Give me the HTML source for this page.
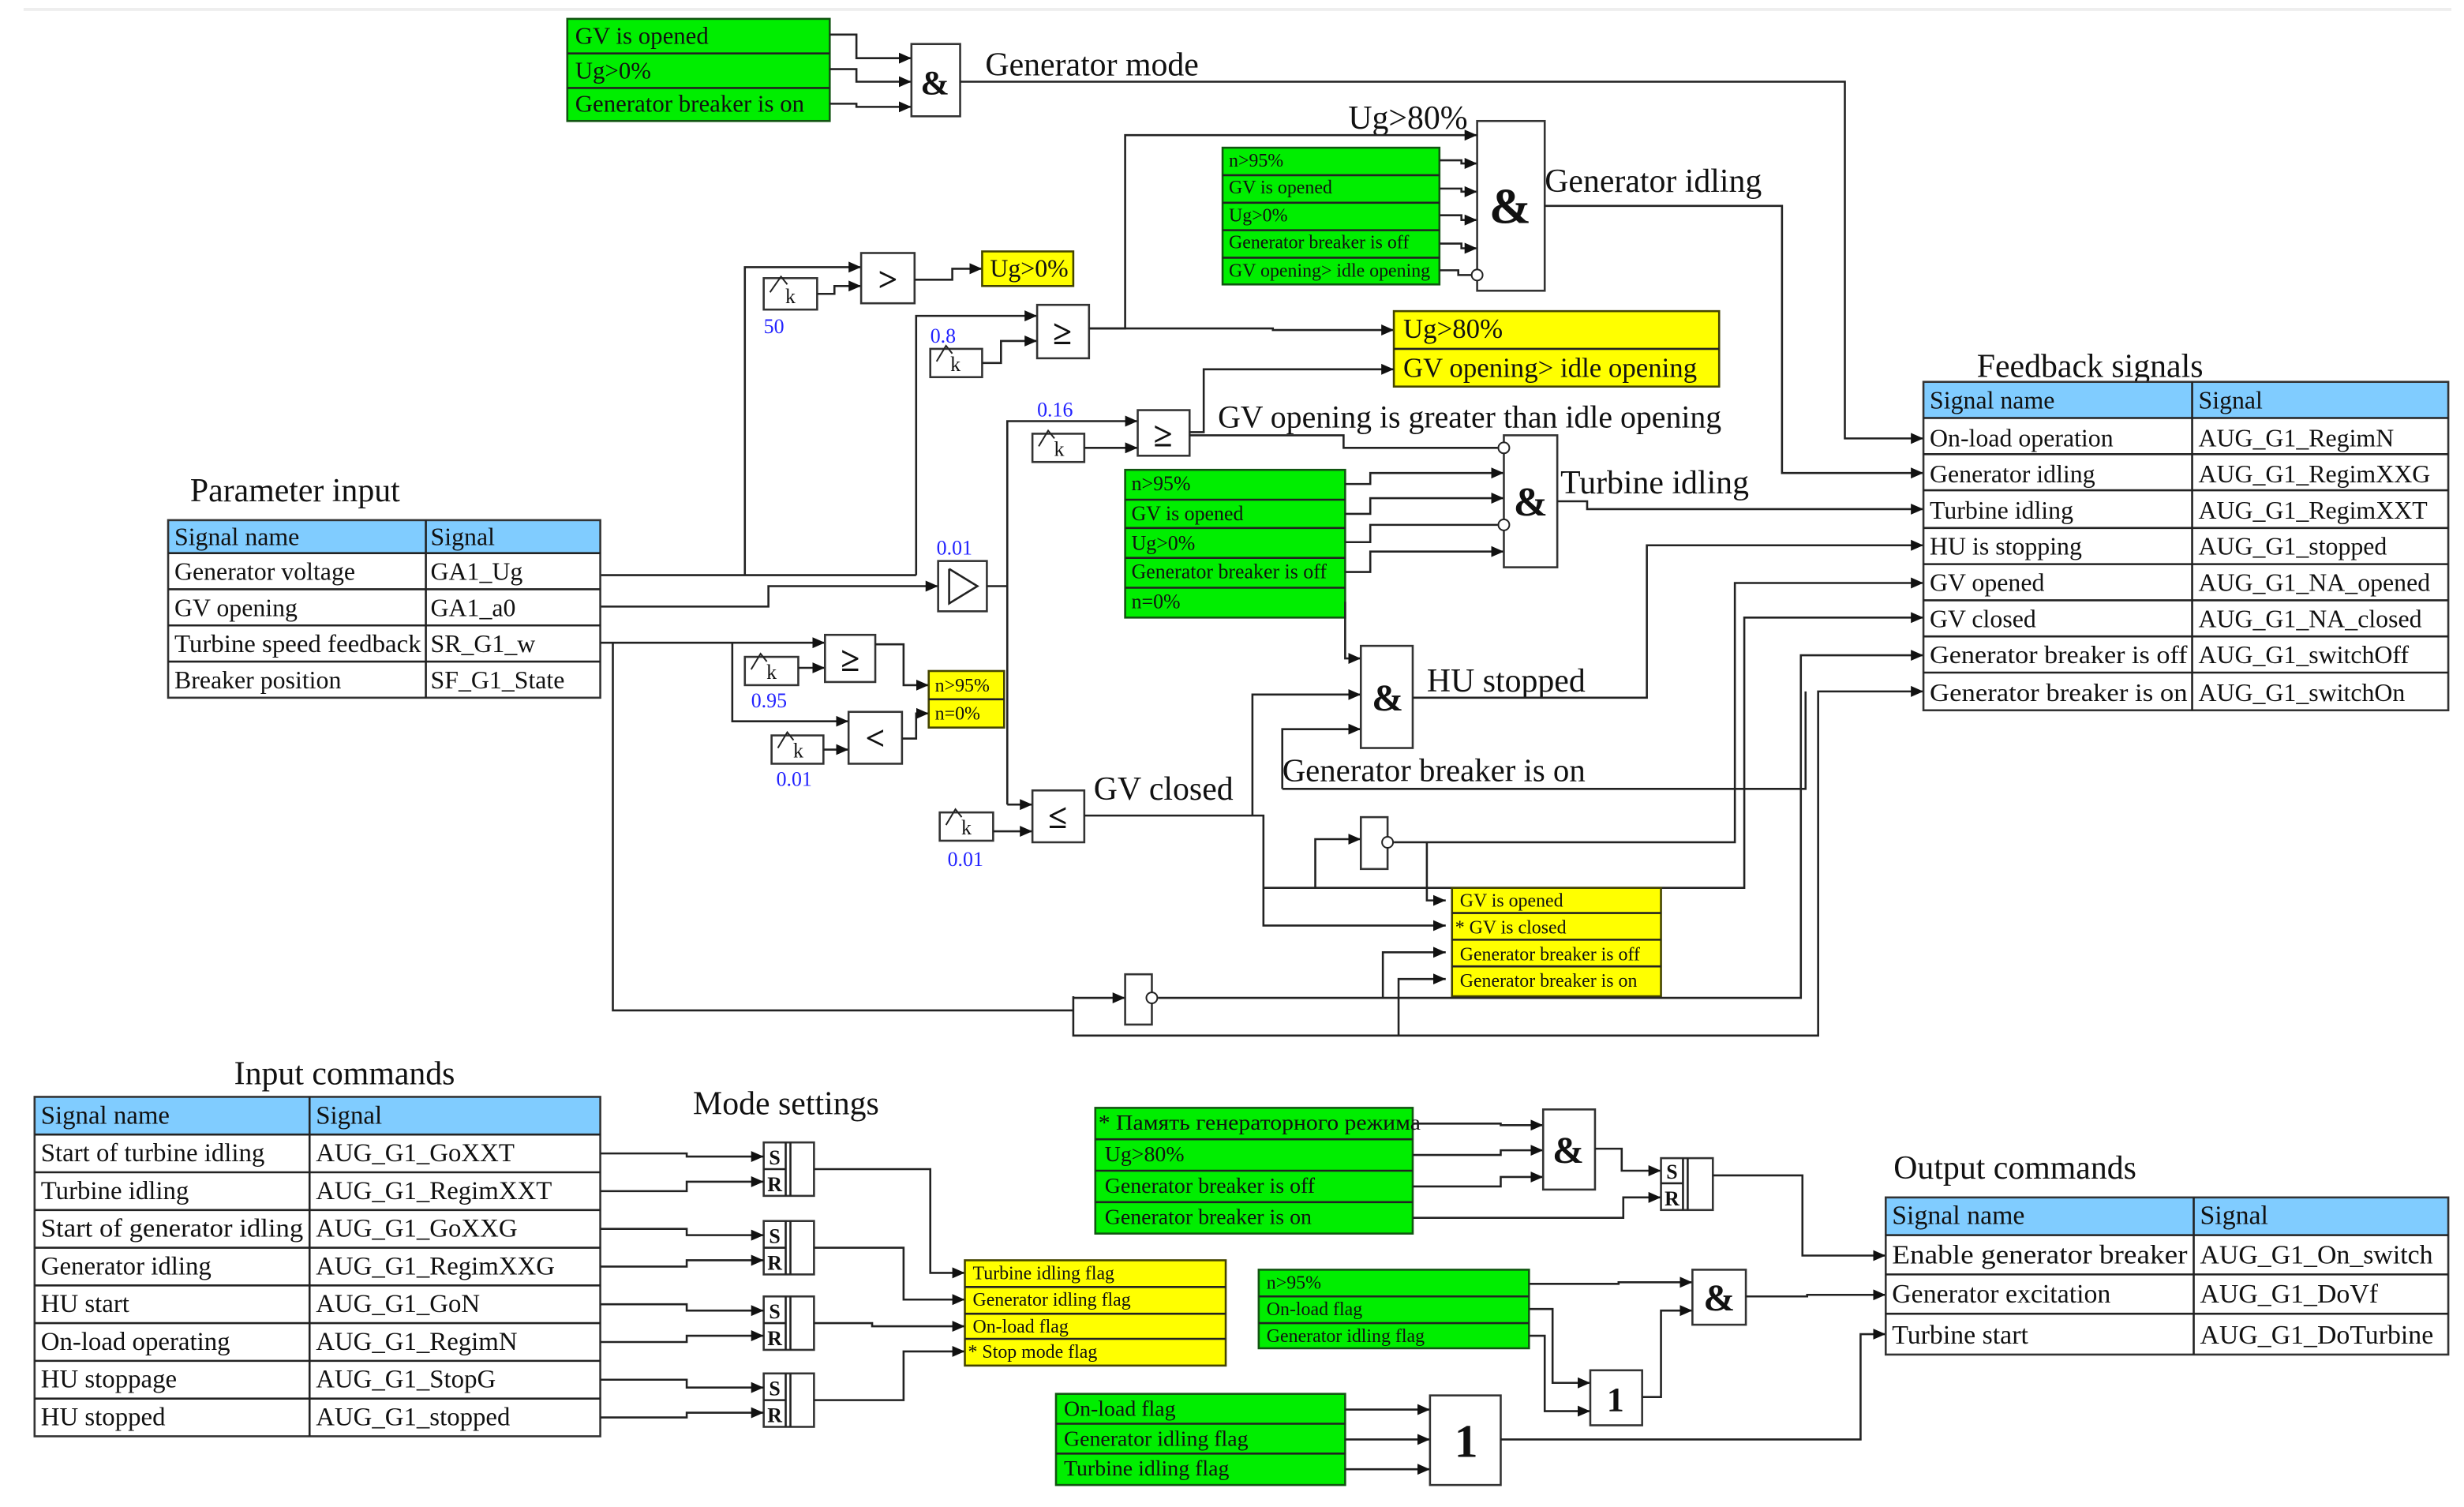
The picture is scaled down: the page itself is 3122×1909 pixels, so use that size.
<!DOCTYPE html>
<html><head><meta charset="utf-8"><style>
html,body{margin:0;padding:0;background:#fff;}
svg{display:block;}
text{font-family:"Liberation Serif","Noto Serif CJK SC",serif;fill:#111;}
.ln{fill:none;stroke:#222;stroke-width:1.3;}
.g{fill:#00ee00;stroke:#115511;stroke-width:1.3;}
.y{fill:#ffff00;stroke:#444400;stroke-width:1.3;}
.gate{fill:#fff;stroke:#333;stroke-width:1.3;}
.hd{fill:#80ccff;}
.b{fill:#2222ff;}
</style></head><body>
<svg width="3122" height="1909" viewBox="0 0 1568 959" preserveAspectRatio="none" xmlns="http://www.w3.org/2000/svg">
<defs><marker id="a" markerWidth="8" markerHeight="8" refX="8" refY="4" orient="auto" markerUnits="userSpaceOnUse"><path d="M0,0.5L8,4L0,7.5z" fill="#111"/></marker></defs>
<line x1="15" y1="6" x2="1560" y2="6" stroke="#eee" stroke-width="2"/>

<!-- Generator mode -->
<rect class="g" x="361" y="12" width="167" height="65"/>
<line class="ln" x1="361" y1="34" x2="528" y2="34"/><line class="ln" x1="361" y1="56" x2="528" y2="56"/>
<text x="366" y="28" font-size="15.5">GV is opened</text>
<text x="366" y="50" font-size="15.5">Ug&gt;0%</text>
<text x="366" y="71" font-size="15.5">Generator breaker is on</text>
<polyline class="ln" points="528,22 545,22 545,37 580,37" marker-end="url(#a)"/>
<polyline class="ln" points="528,44 545,44 545,52 580,52" marker-end="url(#a)"/>
<polyline class="ln" points="528,66 545,66 545,68 580,68" marker-end="url(#a)"/>
<rect class="gate" x="580" y="28" width="31" height="46"/>
<text x="595" y="60" font-size="22" font-weight="bold" text-anchor="middle">&amp;</text>
<text x="627" y="48" font-size="21">Generator mode</text>
<polyline class="ln" points="611,52 1174,52 1174,279 1224,279" marker-end="url(#a)"/>

<!-- Generator idling -->
<rect class="g" x="778" y="94" width="138" height="87"/>
<g class="ln"><line x1="778" y1="111.5" x2="916" y2="111.5"/><line x1="778" y1="129" x2="916" y2="129"/><line x1="778" y1="146.5" x2="916" y2="146.5"/><line x1="778" y1="164" x2="916" y2="164"/></g>
<g font-size="12"><text x="782" y="106">n&gt;95%</text><text x="782" y="123">GV is opened</text><text x="782" y="141">Ug&gt;0%</text><text x="782" y="158">Generator breaker is off</text><text x="782" y="176">GV opening&gt; idle opening</text></g>
<polyline class="ln" points="916,102 930,102 930,104 940,104" marker-end="url(#a)"/>
<polyline class="ln" points="916,120 930,120 930,122 940,122" marker-end="url(#a)"/>
<polyline class="ln" points="916,137 930,137 930,140 940,140" marker-end="url(#a)"/>
<polyline class="ln" points="916,155 930,155 930,158 940,158" marker-end="url(#a)"/>
<polyline class="ln" points="916,172 928,172 928,175 937,175"/>
<rect class="gate" x="940" y="77" width="43" height="108"/>
<circle cx="940" cy="175" r="3.5" fill="#fff" stroke="#222" stroke-width="1"/>
<text x="961" y="142" font-size="32" font-weight="bold" text-anchor="middle">&amp;</text>
<text x="858" y="82" font-size="21">Ug&gt;80%</text>
<text x="983" y="122" font-size="21">Generator idling</text>
<polyline class="ln" points="693,209 716,209 716,86 940,86" marker-end="url(#a)"/>
<polyline class="ln" points="983,131 1134,131 1134,301 1224,301" marker-end="url(#a)"/>

<!-- comparators top -->
<polyline class="ln" points="382,366 583,366"/>
<polyline class="ln" points="474,366 474,170 548,170" marker-end="url(#a)"/>
<rect class="gate" x="486" y="177" width="34" height="20"/><text x="503" y="193" font-size="13" text-anchor="middle">k</text>
<polyline class="ln" points="490,186 497,176 501,181" style="stroke-width:1"/>
<text x="486" y="212" font-size="13" class="b">50</text>
<polyline class="ln" points="520,187 531,187 531,182 548,182" marker-end="url(#a)"/>
<rect class="gate" x="548" y="161" width="34" height="32"/><text x="565" y="185" font-size="22" font-weight="bold" text-anchor="middle">&gt;</text>
<polyline class="ln" points="582,178 606,178 606,171 625,171" marker-end="url(#a)"/>
<rect class="y" x="625" y="160" width="58" height="22"/><text x="630" y="176" font-size="16">Ug&gt;0%</text>

<polyline class="ln" points="583,366 583,201 660,201" marker-end="url(#a)"/>
<rect class="gate" x="592" y="222" width="33" height="18"/><text x="608" y="236" font-size="13" text-anchor="middle">k</text>
<polyline class="ln" points="596,230 602,220 606,225" style="stroke-width:1"/>
<text x="592" y="218" font-size="13" class="b">0.8</text>
<polyline class="ln" points="625,231 637,231 637,217 660,217" marker-end="url(#a)"/>
<rect class="gate" x="660" y="194" width="33" height="34"/><text x="676" y="219" font-size="22" font-weight="bold" text-anchor="middle">≥</text>
<polyline class="ln" points="693,209 810,209 810,210 887,210" marker-end="url(#a)"/>
<rect class="y" x="887" y="198" width="207" height="48"/><line class="ln" x1="887" y1="222" x2="1094" y2="222"/>
<text x="893" y="215" font-size="17.5">Ug&gt;80%</text><text x="893" y="240" font-size="17.5">GV opening&gt; idle opening</text>

<!-- GV opening -->
<polyline class="ln" points="382,386 489,386 489,373 597,373" marker-end="url(#a)"/>
<rect class="gate" x="597" y="357" width="31" height="32"/>
<polyline class="ln" points="604,362 622,373 604,384 604,362"/>
<text x="596" y="353" font-size="13" class="b">0.01</text>
<polyline class="ln" points="628,373 641,373"/>
<polyline class="ln" points="641,512 641,268 724,268" marker-end="url(#a)"/>
<rect class="gate" x="657" y="276" width="33" height="18"/><text x="674" y="290" font-size="13" text-anchor="middle">k</text>
<polyline class="ln" points="661,284 667,274 671,279" style="stroke-width:1"/>
<text x="660" y="265" font-size="13" class="b">0.16</text>
<polyline class="ln" points="690,285 724,285" marker-end="url(#a)"/>
<rect class="gate" x="724" y="261" width="33" height="29"/><text x="740" y="284" font-size="22" font-weight="bold" text-anchor="middle">≥</text>
<polyline class="ln" points="757,275 766,275 766,235 887,235" marker-end="url(#a)"/>
<polyline class="ln" points="757,277 855,277 855,285 953,285"/>
<text x="775" y="272" font-size="20">GV opening is greater than idle opening</text>

<!-- Turbine idling -->
<rect class="g" x="716" y="299" width="140" height="94"/>
<g class="ln"><line x1="716" y1="318" x2="856" y2="318"/><line x1="716" y1="336" x2="856" y2="336"/><line x1="716" y1="355" x2="856" y2="355"/><line x1="716" y1="374" x2="856" y2="374"/></g>
<g font-size="13"><text x="720" y="312">n&gt;95%</text><text x="720" y="331">GV is opened</text><text x="720" y="350">Ug&gt;0%</text><text x="720" y="368">Generator breaker is off</text><text x="720" y="387">n=0%</text></g>
<polyline class="ln" points="856,308 872,308 872,301 957,301" marker-end="url(#a)"/>
<polyline class="ln" points="856,327 872,327 872,317 957,317" marker-end="url(#a)"/>
<polyline class="ln" points="856,345 872,345 872,334 953,334"/>
<polyline class="ln" points="856,364 872,364 872,351 957,351" marker-end="url(#a)"/>
<rect class="gate" x="957" y="277" width="34" height="84"/>
<circle cx="957" cy="285" r="3.5" fill="#fff" stroke="#222" stroke-width="1"/>
<circle cx="957" cy="334" r="3.5" fill="#fff" stroke="#222" stroke-width="1"/>
<text x="974" y="328" font-size="26" font-weight="bold" text-anchor="middle">&amp;</text>
<text x="993" y="314" font-size="21">Turbine idling</text>
<polyline class="ln" points="991,319 1010,319 1010,324 1224,324" marker-end="url(#a)"/>

<!-- HU stopped -->
<polyline class="ln" points="856,383 856,419 866,419" marker-end="url(#a)"/>
<polyline class="ln" points="797,519 797,442 866,442" marker-end="url(#a)"/>
<polyline class="ln" points="816,502 816,464 866,464" marker-end="url(#a)"/>
<rect class="gate" x="866" y="411" width="33" height="65"/>
<text x="883" y="452" font-size="24" font-weight="bold" text-anchor="middle">&amp;</text>
<text x="908" y="440" font-size="21">HU stopped</text>
<polyline class="ln" points="899,444 1048,444 1048,347 1224,347" marker-end="url(#a)"/>
<polyline class="ln" points="816,502 1149,502 1149,440"/>
<text x="816" y="497" font-size="20.5">Generator breaker is on</text>

<!-- Parameter input table -->
<text x="121" y="319" font-size="21">Parameter input</text>
<rect class="hd" x="107" y="331" width="275" height="21"/>
<rect x="107" y="331" width="275" height="113" fill="none" stroke="#333" stroke-width="1.3"/>
<g class="ln"><line x1="107" y1="352" x2="382" y2="352"/><line x1="107" y1="375" x2="382" y2="375"/><line x1="107" y1="398" x2="382" y2="398"/><line x1="107" y1="421" x2="382" y2="421"/><line x1="271" y1="331" x2="271" y2="444"/></g>
<g font-size="16"><text x="111" y="347">Signal name</text><text x="274" y="347">Signal</text>
<text x="111" y="369">Generator voltage</text><text x="274" y="369">GA1_Ug</text>
<text x="111" y="392">GV opening</text><text x="274" y="392">GA1_a0</text>
<text x="111" y="415" textLength="157" lengthAdjust="spacingAndGlyphs">Turbine speed feedback</text><text x="274" y="415">SR_G1_w</text>
<text x="111" y="438">Breaker position</text><text x="274" y="438">SF_G1_State</text></g>

<!-- speed comparators -->
<polyline class="ln" points="382,409 525,409" marker-end="url(#a)"/>
<polyline class="ln" points="466,409 466,459 540,459" marker-end="url(#a)"/>
<rect class="gate" x="474" y="418" width="34" height="18"/><text x="491" y="432" font-size="13" text-anchor="middle">k</text>
<polyline class="ln" points="478,426 484,416 488,421" style="stroke-width:1"/>
<text x="478" y="450" font-size="13" class="b">0.95</text>
<polyline class="ln" points="508,425 525,425" marker-end="url(#a)"/>
<rect class="gate" x="525" y="404" width="32" height="30"/><text x="541" y="427" font-size="22" font-weight="bold" text-anchor="middle">≥</text>
<rect class="gate" x="491" y="468" width="33" height="18"/><text x="508" y="482" font-size="13" text-anchor="middle">k</text>
<polyline class="ln" points="495,476 501,466 505,471" style="stroke-width:1"/>
<text x="494" y="500" font-size="13" class="b">0.01</text>
<polyline class="ln" points="524,477 540,477" marker-end="url(#a)"/>
<rect class="gate" x="540" y="453" width="34" height="33"/><text x="557" y="477" font-size="22" font-weight="bold" text-anchor="middle">&lt;</text>
<polyline class="ln" points="557,410 575,410 575,436 591,436" marker-end="url(#a)"/>
<polyline class="ln" points="574,470 583,470 583,454 591,454" marker-end="url(#a)"/>
<rect class="y" x="591" y="427" width="48" height="36"/><line class="ln" x1="591" y1="445" x2="639" y2="445"/>
<text x="595" y="440" font-size="12">n&gt;95%</text><text x="595" y="458" font-size="12">n=0%</text>

<!-- GV closed -->
<polyline class="ln" points="641,512 657,512" marker-end="url(#a)"/>
<rect class="gate" x="598" y="517" width="34" height="18"/><text x="615" y="531" font-size="13" text-anchor="middle">k</text>
<polyline class="ln" points="602,525 608,515 612,520" style="stroke-width:1"/>
<text x="603" y="551" font-size="13" class="b">0.01</text>
<polyline class="ln" points="632,529 657,529" marker-end="url(#a)"/>
<rect class="gate" x="657" y="503" width="33" height="33"/><text x="673" y="527" font-size="22" font-weight="bold" text-anchor="middle">≤</text>
<text x="696" y="509" font-size="21">GV closed</text>
<polyline class="ln" points="690,519 804,519 804,589 920,589" marker-end="url(#a)"/>
<polyline class="ln" points="804,565 1110,565 1110,393 1224,393" marker-end="url(#a)"/>
<polyline class="ln" points="837,565 837,534 866,534" marker-end="url(#a)"/>
<rect class="gate" x="866" y="520" width="17" height="33"/>
<circle cx="883" cy="536" r="3.5" fill="#fff" stroke="#222" stroke-width="1"/>
<polyline class="ln" points="887,536 1104,536 1104,371 1224,371" marker-end="url(#a)"/>
<polyline class="ln" points="908,536 908,573 920,573" marker-end="url(#a)"/>
<rect class="y" x="924" y="565" width="133" height="69"/>
<g class="ln"><line x1="924" y1="581" x2="1057" y2="581"/><line x1="924" y1="598" x2="1057" y2="598"/><line x1="924" y1="615" x2="1057" y2="615"/></g>
<g font-size="12"><text x="929" y="577">GV is opened</text><text x="926" y="594">* GV is closed</text><text x="929" y="611">Generator breaker is off</text><text x="929" y="628">Generator breaker is on</text></g>

<!-- bottom loop -->
<polyline class="ln" points="390,409 390,643 683,643"/>
<polyline class="ln" points="683,634 683,659 1157,659 1157,440 1224,440" marker-end="url(#a)"/>
<polyline class="ln" points="683,635 716,635" marker-end="url(#a)"/>
<rect class="gate" x="716" y="620" width="17" height="32"/>
<circle cx="733" cy="635" r="3.5" fill="#fff" stroke="#222" stroke-width="1"/>
<polyline class="ln" points="737,635 1146,635 1146,417 1224,417" marker-end="url(#a)"/>
<polyline class="ln" points="880,635 880,606 920,606" marker-end="url(#a)"/>
<polyline class="ln" points="890,659 890,623 920,623" marker-end="url(#a)"/>

<!-- Feedback table -->
<text x="1258" y="240" font-size="21">Feedback signals</text>
<rect class="hd" x="1224" y="243" width="334" height="23"/>
<rect x="1224" y="243" width="334" height="209" fill="none" stroke="#333" stroke-width="1.3"/>
<g class="ln"><line x1="1224" y1="266" x2="1558" y2="266"/><line x1="1224" y1="289" x2="1558" y2="289"/><line x1="1224" y1="312" x2="1558" y2="312"/><line x1="1224" y1="336" x2="1558" y2="336"/><line x1="1224" y1="359" x2="1558" y2="359"/><line x1="1224" y1="382" x2="1558" y2="382"/><line x1="1224" y1="405" x2="1558" y2="405"/><line x1="1224" y1="428" x2="1558" y2="428"/><line x1="1395" y1="243" x2="1395" y2="452"/></g>
<g font-size="16"><text x="1228" y="260">Signal name</text><text x="1399" y="260">Signal</text>
<text x="1228" y="284">On-load operation</text><text x="1399" y="284">AUG_G1_RegimN</text>
<text x="1228" y="307">Generator idling</text><text x="1399" y="307">AUG_G1_RegimXXG</text>
<text x="1228" y="330">Turbine idling</text><text x="1399" y="330">AUG_G1_RegimXXT</text>
<text x="1228" y="353">HU is stopping</text><text x="1399" y="353">AUG_G1_stopped</text>
<text x="1228" y="376">GV opened</text><text x="1399" y="376">AUG_G1_NA_opened</text>
<text x="1228" y="399">GV closed</text><text x="1399" y="399">AUG_G1_NA_closed</text>
<text x="1228" y="422" textLength="164" lengthAdjust="spacingAndGlyphs">Generator breaker is off</text><text x="1399" y="422">AUG_G1_switchOff</text>
<text x="1228" y="446" textLength="164" lengthAdjust="spacingAndGlyphs">Generator breaker is on</text><text x="1399" y="446">AUG_G1_switchOn</text></g>

<!-- Input commands -->
<text x="149" y="690" font-size="21">Input commands</text>
<rect class="hd" x="22" y="698" width="360" height="24"/>
<rect x="22" y="698" width="360" height="216" fill="none" stroke="#333" stroke-width="1.3"/>
<g class="ln"><line x1="22" y1="722" x2="382" y2="722"/><line x1="22" y1="746" x2="382" y2="746"/><line x1="22" y1="770" x2="382" y2="770"/><line x1="22" y1="794" x2="382" y2="794"/><line x1="22" y1="818" x2="382" y2="818"/><line x1="22" y1="842" x2="382" y2="842"/><line x1="22" y1="866" x2="382" y2="866"/><line x1="22" y1="890" x2="382" y2="890"/><line x1="197" y1="698" x2="197" y2="914"/></g>
<g font-size="16.5"><text x="26" y="715">Signal name</text><text x="201" y="715">Signal</text>
<text x="26" y="739">Start of turbine idling</text><text x="201" y="739">AUG_G1_GoXXT</text>
<text x="26" y="763">Turbine idling</text><text x="201" y="763">AUG_G1_RegimXXT</text>
<text x="26" y="787" textLength="167" lengthAdjust="spacingAndGlyphs">Start of generator idling</text><text x="201" y="787">AUG_G1_GoXXG</text>
<text x="26" y="811">Generator idling</text><text x="201" y="811">AUG_G1_RegimXXG</text>
<text x="26" y="835">HU start</text><text x="201" y="835">AUG_G1_GoN</text>
<text x="26" y="859">On-load operating</text><text x="201" y="859">AUG_G1_RegimN</text>
<text x="26" y="883">HU stoppage</text><text x="201" y="883">AUG_G1_StopG</text>
<text x="26" y="907">HU stopped</text><text x="201" y="907">AUG_G1_stopped</text></g>
<text x="441" y="709" font-size="21">Mode settings</text>

<!-- SR blocks -->
<g>
<rect class="gate" x="486" y="727" width="32" height="34"/><line class="ln" x1="486" y1="744" x2="500" y2="744"/><line class="ln" x1="500" y1="727" x2="500" y2="761"/><line class="ln" x1="503" y1="727" x2="503" y2="761"/>
<text x="493" y="741" font-size="13" font-weight="bold" text-anchor="middle">S</text><text x="493" y="758" font-size="13" font-weight="bold" text-anchor="middle">R</text>
<rect class="gate" x="486" y="777" width="32" height="34"/><line class="ln" x1="486" y1="794" x2="500" y2="794"/><line class="ln" x1="500" y1="777" x2="500" y2="811"/><line class="ln" x1="503" y1="777" x2="503" y2="811"/>
<text x="493" y="791" font-size="13" font-weight="bold" text-anchor="middle">S</text><text x="493" y="808" font-size="13" font-weight="bold" text-anchor="middle">R</text>
<rect class="gate" x="486" y="825" width="32" height="34"/><line class="ln" x1="486" y1="842" x2="500" y2="842"/><line class="ln" x1="500" y1="825" x2="500" y2="859"/><line class="ln" x1="503" y1="825" x2="503" y2="859"/>
<text x="493" y="839" font-size="13" font-weight="bold" text-anchor="middle">S</text><text x="493" y="856" font-size="13" font-weight="bold" text-anchor="middle">R</text>
<rect class="gate" x="486" y="874" width="32" height="34"/><line class="ln" x1="486" y1="891" x2="500" y2="891"/><line class="ln" x1="500" y1="874" x2="500" y2="908"/><line class="ln" x1="503" y1="874" x2="503" y2="908"/>
<text x="493" y="888" font-size="13" font-weight="bold" text-anchor="middle">S</text><text x="493" y="905" font-size="13" font-weight="bold" text-anchor="middle">R</text>
</g>
<polyline class="ln" points="382,734 437,734 437,736 486,736" marker-end="url(#a)"/>
<polyline class="ln" points="382,758 437,758 437,752 486,752" marker-end="url(#a)"/>
<polyline class="ln" points="382,782 437,782 437,786 486,786" marker-end="url(#a)"/>
<polyline class="ln" points="382,806 437,806 437,802 486,802" marker-end="url(#a)"/>
<polyline class="ln" points="382,830 437,830 437,834 486,834" marker-end="url(#a)"/>
<polyline class="ln" points="382,854 437,854 437,850 486,850" marker-end="url(#a)"/>
<polyline class="ln" points="382,878 437,878 437,883 486,883" marker-end="url(#a)"/>
<polyline class="ln" points="382,902 437,902 437,899 486,899" marker-end="url(#a)"/>
<polyline class="ln" points="518,744 592,744 592,810 614,810" marker-end="url(#a)"/>
<polyline class="ln" points="518,794 575,794 575,827 614,827" marker-end="url(#a)"/>
<polyline class="ln" points="518,842 555,842 555,844 614,844" marker-end="url(#a)"/>
<polyline class="ln" points="518,891 575,891 575,860 614,860" marker-end="url(#a)"/>
<rect class="y" x="614" y="802" width="166" height="67"/>
<g class="ln"><line x1="614" y1="819" x2="780" y2="819"/><line x1="614" y1="836" x2="780" y2="836"/><line x1="614" y1="852" x2="780" y2="852"/></g>
<g font-size="12"><text x="619" y="814">Turbine idling flag</text><text x="619" y="831">Generator idling flag</text><text x="619" y="848">On-load flag</text><text x="616" y="864">* Stop mode flag</text></g>

<!-- Generator breaker enable -->
<rect class="g" x="697" y="705" width="202" height="80"/>
<g class="ln"><line x1="697" y1="725" x2="899" y2="725"/><line x1="697" y1="745" x2="899" y2="745"/><line x1="697" y1="765" x2="899" y2="765"/></g>
<g font-size="14"><text x="699" y="719" textLength="205" lengthAdjust="spacingAndGlyphs">* Память генераторного режима</text><text x="703" y="739">Ug&gt;80%</text><text x="703" y="759">Generator breaker is off</text><text x="703" y="779">Generator breaker is on</text></g>
<polyline class="ln" points="899,715 955,715 955,716 982,716" marker-end="url(#a)"/>
<polyline class="ln" points="899,735 955,735 955,732 982,732" marker-end="url(#a)"/>
<polyline class="ln" points="899,755 955,755 955,749 982,749" marker-end="url(#a)"/>
<rect class="gate" x="982" y="706" width="33" height="51"/>
<text x="998" y="740" font-size="24" font-weight="bold" text-anchor="middle">&amp;</text>
<polyline class="ln" points="1015,731 1032,731 1032,745 1057,745" marker-end="url(#a)"/>
<polyline class="ln" points="899,775 1033,775 1033,762 1057,762" marker-end="url(#a)"/>
<rect class="gate" x="1057" y="737" width="33" height="33"/><line class="ln" x1="1057" y1="753" x2="1071" y2="753"/><line class="ln" x1="1071" y1="737" x2="1071" y2="770"/><line class="ln" x1="1074" y1="737" x2="1074" y2="770"/>
<text x="1064" y="750" font-size="13" font-weight="bold" text-anchor="middle">S</text><text x="1064" y="767" font-size="13" font-weight="bold" text-anchor="middle">R</text>
<polyline class="ln" points="1090,748 1147,748 1147,799 1200,799" marker-end="url(#a)"/>

<!-- Excitation -->
<rect class="g" x="801" y="808" width="172" height="50"/>
<g class="ln"><line x1="801" y1="825" x2="973" y2="825"/><line x1="801" y1="842" x2="973" y2="842"/></g>
<g font-size="12"><text x="806" y="820">n&gt;95%</text><text x="806" y="837">On-load flag</text><text x="806" y="854">Generator idling flag</text></g>
<polyline class="ln" points="973,817 1030,817 1030,816 1077,816" marker-end="url(#a)"/>
<polyline class="ln" points="973,833 988,833 988,880 1012,880" marker-end="url(#a)"/>
<polyline class="ln" points="973,850 983,850 983,898 1012,898" marker-end="url(#a)"/>
<rect class="gate" x="1012" y="872" width="33" height="35"/>
<text x="1028" y="898" font-size="22" font-weight="bold" text-anchor="middle">1</text>
<polyline class="ln" points="1045,889 1057,889 1057,834 1077,834" marker-end="url(#a)"/>
<rect class="gate" x="1077" y="808" width="34" height="35"/>
<text x="1094" y="834" font-size="24" font-weight="bold" text-anchor="middle">&amp;</text>
<polyline class="ln" points="1111,825 1150,825 1150,824 1200,824" marker-end="url(#a)"/>

<!-- Turbine start -->
<rect class="g" x="672" y="887" width="184" height="58"/>
<g class="ln"><line x1="672" y1="906" x2="856" y2="906"/><line x1="672" y1="925" x2="856" y2="925"/></g>
<g font-size="14"><text x="677" y="901">On-load flag</text><text x="677" y="920">Generator idling flag</text><text x="677" y="939">Turbine idling flag</text></g>
<polyline class="ln" points="856,897 910,897" marker-end="url(#a)"/>
<polyline class="ln" points="856,916 910,916" marker-end="url(#a)"/>
<polyline class="ln" points="856,935 910,935" marker-end="url(#a)"/>
<rect class="gate" x="910" y="888" width="45" height="57"/>
<text x="933" y="927" font-size="30" font-weight="bold" text-anchor="middle">1</text>
<polyline class="ln" points="955,916 1184,916 1184,849 1200,849" marker-end="url(#a)"/>

<!-- Output commands -->
<text x="1205" y="750" font-size="21">Output commands</text>
<rect class="hd" x="1200" y="762" width="358" height="24"/>
<rect x="1200" y="762" width="358" height="100" fill="none" stroke="#333" stroke-width="1.3"/>
<g class="ln"><line x1="1200" y1="786" x2="1558" y2="786"/><line x1="1200" y1="811" x2="1558" y2="811"/><line x1="1200" y1="836" x2="1558" y2="836"/><line x1="1396" y1="762" x2="1396" y2="862"/></g>
<g font-size="17"><text x="1204" y="779">Signal name</text><text x="1400" y="779">Signal</text>
<text x="1204" y="804" textLength="188" lengthAdjust="spacingAndGlyphs">Enable generator breaker</text><text x="1400" y="804">AUG_G1_On_switch</text>
<text x="1204" y="829">Generator excitation</text><text x="1400" y="829">AUG_G1_DoVf</text>
<text x="1204" y="855">Turbine start</text><text x="1400" y="855">AUG_G1_DoTurbine</text></g>
</svg>
</body></html>
